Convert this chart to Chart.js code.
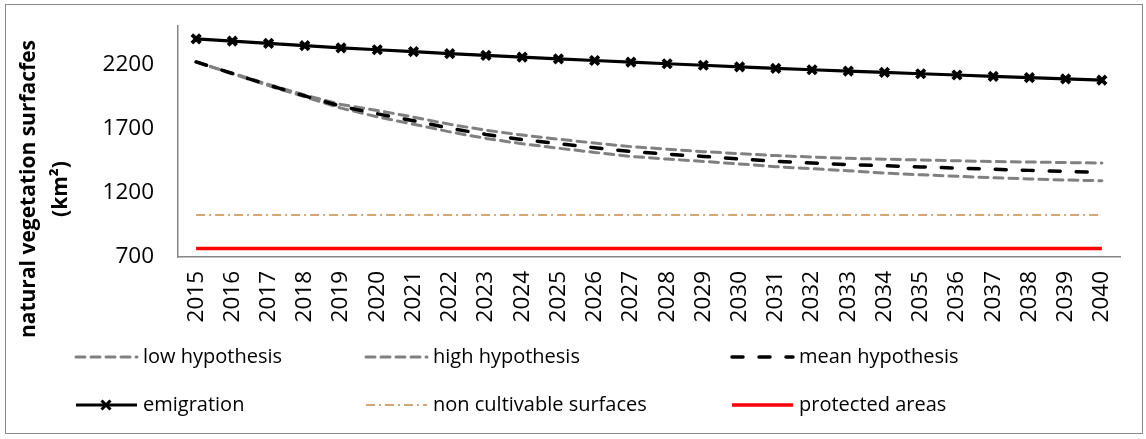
<!DOCTYPE html>
<html>
<head>
<meta charset="utf-8">
<script src="https://cdn.jsdelivr.net/npm/chart.js@4.4.1/dist/chart.umd.min.js"></script>
<style>
  html, body { margin: 0; padding: 0; background: #fff; }
  #wrap { position: relative; width: 1146px; height: 439px; }
  #frame { position: absolute; left: 5px; top: 4px; width: 1138px; height: 430px; border: 1.5px solid #8a8a8a; box-sizing: border-box; pointer-events: none; }
</style>
</head>
<body>
<div id="wrap">
  <canvas id="chart" width="1146" height="439"></canvas>
  <div id="frame"></div>
</div>
<script>
// ── Data ───────────────────────────────────────────────────────────────────
const YEARS = ['2015','2016','2017','2018','2019','2020','2021','2022','2023','2024','2025','2026','2027',
               '2028','2029','2030','2031','2032','2033','2034','2035','2036','2037','2038','2039','2040'];

const LOW_HYP  = [2220, 2128, 2035, 1948, 1860, 1792, 1735, 1675, 1624, 1582, 1548, 1515, 1484,
                  1463, 1445, 1425, 1404, 1388, 1372, 1354, 1341, 1329, 1318, 1308, 1300, 1294];
const HIGH_HYP = [2220, 2132, 2045, 1962, 1888, 1842, 1790, 1734, 1688, 1650, 1618, 1588, 1560,
                  1540, 1521, 1505, 1490, 1479, 1469, 1462, 1456, 1450, 1444, 1440, 1436, 1432];
const MEAN_HYP = [2220, 2130, 2040, 1955, 1874, 1816, 1762, 1703, 1655, 1615, 1583, 1551, 1522,
                  1501, 1484, 1463, 1446, 1432, 1420, 1411, 1402, 1393, 1384, 1375, 1367, 1359];
const EMIGRATION = [2400, 2382, 2364, 2347, 2330, 2315, 2300, 2285, 2271, 2257, 2244, 2231, 2218,
                    2206, 2194, 2182, 2170, 2159, 2148, 2138, 2128, 2118, 2108, 2098, 2088, 2078];
const NON_CULTIVABLE = [1027, 1027, 1027, 1027, 1027, 1027, 1027, 1027, 1027, 1027, 1027, 1027, 1027,
                        1027, 1027, 1027, 1027, 1027, 1027, 1027, 1027, 1027, 1027, 1027, 1027, 1027];
const PROTECTED = [766, 766, 766, 766, 766, 766, 766, 766, 766, 766, 766, 766, 766,
                   766, 766, 766, 766, 766, 766, 766, 766, 766, 766, 766, 766, 766];

const Y_TICKS = [700, 1200, 1700, 2200];
const Y_TITLE = ['natural vegetation surfacfes', '(km²)'];

const FONT = "'Open Sans', 'DejaVu Sans', sans-serif";

// ── Legend drawn Excel-style: 3 columns x 2 rows ───────────────────────────
const LEGEND_SLOTS = [
  { x: 76,  y: 357 }, { x: 366, y: 357 }, { x: 732, y: 357 },
  { x: 76,  y: 405 }, { x: 366, y: 405 }, { x: 732, y: 405 },
];

function drawCross(ctx, x, y, r, w, color) {
  ctx.save();
  ctx.setLineDash([]);
  ctx.strokeStyle = color;
  ctx.lineWidth = w;
  ctx.lineCap = 'butt';
  ctx.beginPath();
  ctx.moveTo(x - r, y - r); ctx.lineTo(x + r, y + r);
  ctx.moveTo(x + r, y - r); ctx.lineTo(x - r, y + r);
  ctx.stroke();
  ctx.restore();
}

const excelLegend = {
  id: 'excelLegend',
  afterDraw(chart) {
    const ctx = chart.ctx;
    chart.data.datasets.forEach((ds, i) => {
      const s = LEGEND_SLOTS[i];
      ctx.save();
      ctx.strokeStyle = ds.borderColor;
      ctx.lineWidth = ds.borderWidth;
      ctx.lineCap = ds.borderCapStyle || 'butt';
      ctx.setLineDash(ds.borderDash || []);
      ctx.beginPath();
      ctx.moveTo(s.x, s.y);
      ctx.lineTo(s.x + 61, s.y);
      ctx.stroke();
      ctx.restore();
      if (ds.pointStyle === 'crossRot') drawCross(ctx, s.x + 30, s.y, 4.5, 3, ds.pointBorderColor);

      ctx.save();
      ctx.fillStyle = '#000';
      ctx.font = `20px ${FONT}`;
      ctx.textBaseline = 'middle';
      ctx.textAlign = 'left';
      ctx.fillText(ds.label, s.x + 67, s.y);
      ctx.restore();
    });

    // y-axis title (two lines, bold, rotated)
    const cy = 189;
    [29, 61].forEach((cx, k) => {
      ctx.save();
      ctx.translate(cx, cy);
      ctx.rotate(-Math.PI / 2);
      ctx.fillStyle = '#000';
      ctx.font = `bold 21px ${FONT}`;
      ctx.textAlign = 'center';
      ctx.textBaseline = 'middle';
      ctx.fillText(Y_TITLE[k], 0, 0);
      ctx.restore();
    });
  },
};

// ── Chart ──────────────────────────────────────────────────────────────────
const ctx = document.getElementById('chart').getContext('2d');
new Chart(ctx, {
  type: 'line',
  data: {
    labels: YEARS,
    datasets: [
      { label: 'low hypothesis',  data: LOW_HYP,  borderColor: '#808080', borderWidth: 3,
        borderDash: [9, 6], borderCapStyle: 'round', pointRadius: 0, order: 5 },
      { label: 'high hypothesis', data: HIGH_HYP, borderColor: '#808080', borderWidth: 3,
        borderDash: [9, 6], borderCapStyle: 'round', pointRadius: 0, order: 4 },
      { label: 'mean hypothesis', data: MEAN_HYP, borderColor: '#000000', borderWidth: 3.5,
        borderDash: [11, 16], borderCapStyle: 'round', pointRadius: 0, order: 3 },
      { label: 'emigration', data: EMIGRATION, borderColor: '#000000', borderWidth: 3.2,
        pointStyle: 'crossRot', pointRadius: 6, pointBorderWidth: 3.8,
        pointBorderColor: '#000000', pointBackgroundColor: '#000000', order: 2 },
      { label: 'non cultivable surfaces', data: NON_CULTIVABLE, borderColor: '#C48A45', borderWidth: 1.4,
        borderDash: [9, 4, 2, 4], pointRadius: 0, order: 1 },
      { label: 'protected areas', data: PROTECTED, borderColor: '#FF0000', borderWidth: 3.5,
        pointRadius: 0, order: 0 },
    ],
  },
  options: {
    responsive: false,
    animation: false,
    devicePixelRatio: 1,
    layout: { padding: { left: 0, right: 26, top: 26, bottom: 0 } },
    elements: { line: { tension: 0, fill: false } },
    plugins: { legend: { display: false }, tooltip: { enabled: false } },
    scales: {
      x: {
        offset: true,
        grid: { display: false, drawTicks: false },
        border: { display: true, color: '#868686', width: 1.5 },
        ticks: {
          color: '#000', font: { family: FONT, size: 22.5 },
          minRotation: 90, maxRotation: 90, autoSkip: false, padding: 14,
        },
        afterFit: scale => { scale.height = 182; scale.paddingLeft = 0; scale.paddingRight = 0; },
      },
      y: {
        min: 700, max: 2500,
        grid: { display: false, drawTicks: false },
        border: { display: true, color: '#868686', width: 1.5 },
        ticks: {
          color: '#000', font: { family: FONT, size: 22.5 }, stepSize: 500, padding: 24,
          callback: v => String(v),
        },
        afterBuildTicks: scale => { scale.ticks = Y_TICKS.map(v => ({ value: v })); },
        afterFit: scale => { scale.width = 178; scale.paddingTop = 0; scale.paddingBottom = 0; },
      },
    },
  },
  plugins: [excelLegend],
});
</script>
</body>
</html>
